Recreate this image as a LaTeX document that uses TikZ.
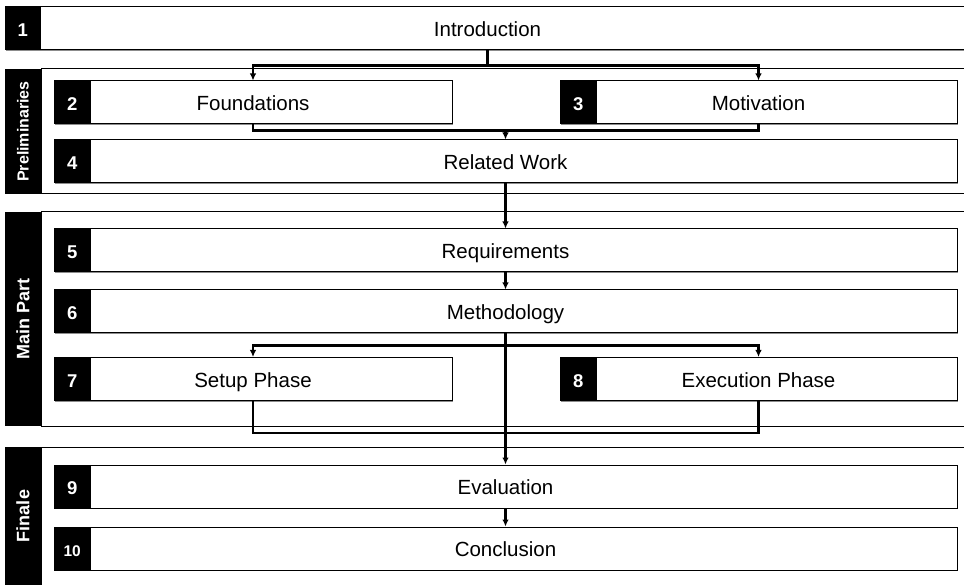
\documentclass[tikz,border=0pt]{standalone}
\usepackage{fontspec}
\setmainfont{Liberation Sans}
\usetikzlibrary{arrows.meta,calc,shadows}
\begin{document}
\begin{tikzpicture}[x=1pt,y=-1pt,
  chapter/.style={draw=black, line width=1pt, fill=white, minimum height=43pt,
    inner sep=0pt, text height=16pt, text depth=0pt, font=\fontsize{20.5}{24}\selectfont,
    drop shadow={shadow xshift=1.2pt, shadow yshift=-1.2pt, fill=black!45, opacity=1}},
  num/.style={fill=black, text=white, minimum width=37pt, minimum height=43pt,
    inner sep=0pt, anchor=west, text height=16pt, text depth=0pt,
    font=\fontsize{18.5}{22}\selectfont\bfseries},
  panel/.style={draw=black, line width=1pt, fill=white},
  sidebar/.style={fill=black},
  sidelabel/.style={text=white, rotate=90, inner sep=0pt, font=\fontsize{18}{21}\selectfont\bfseries},
  conn/.style={line width=2.2pt, draw=black},
  arr/.style={conn, -{Latex[length=7pt,width=6.5pt]}}
]
\useasboundingbox (0,0) rectangle (964,585);
\clip (0,0) rectangle (964,585);
\fill[white] (0,0) rectangle (964,585);

% group panels with their side bars
\draw[panel] (41,69) rectangle (990,194);
\fill[sidebar] (5,69) rectangle (41,194);
\node[sidelabel, font=\fontsize{16}{19}\selectfont\bfseries] (gPre) at (23,131.5) {Preliminaries};

\draw[panel] (41,212) rectangle (990,426);
\fill[sidebar] (5,212) rectangle (41,426);
\node[sidelabel] (gMain) at (23,319) {Main Part};

\draw[panel] (41,447) rectangle (990,600);
\fill[sidebar] (5,447) rectangle (41,600);
\node[sidelabel] (gFin) at (23,516) {Finale};

% chapters
\node[chapter, minimum width=965pt] (b1) at (487.5,28.5) {Introduction};
\node[num, minimum width=36pt] (n1) at (b1.west) {1};

\node[chapter, minimum width=398pt] (b2) at (253,102.5) {Foundations};
\node[num] (n2) at (b2.west) {2};
\node[chapter, minimum width=397pt] (b3) at (758.5,102.5) {Motivation};
\node[num] (n3) at (b3.west) {3};
\node[chapter, minimum width=903pt] (b4) at (505.5,161.5) {Related Work};
\node[num] (n4) at (b4.west) {4};

\node[chapter, minimum width=903pt] (b5) at (505.5,250.5) {Requirements};
\node[num] (n5) at (b5.west) {5};
\node[chapter, minimum width=903pt] (b6) at (505.5,311.5) {Methodology};
\node[num] (n6) at (b6.west) {6};
\node[chapter, minimum width=398pt] (b7) at (253,379) {Setup Phase};
\node[num] (n7) at (b7.west) {7};
\node[chapter, minimum width=397pt] (b8) at (758.5,379) {Execution Phase};
\node[num] (n8) at (b8.west) {8};

\node[chapter, minimum width=903pt] (b9) at (505.5,486.5) {Evaluation};
\node[num] (n9) at (b9.west) {9};
\node[chapter, minimum width=903pt] (b10) at (505.5,548.5) {Conclusion};
\node[num, font=\fontsize{15.5}{18}\selectfont\bfseries] (n10) at (b10.west) {10};

% flow between chapters
\draw[conn] (b1.south) -- ++(0,15) coordinate (j1);
\draw[arr] (j1) -| (b2.north);
\draw[arr] (j1) -| (b3.north);

\draw[conn] (b2.south) -- ++(0,6) coordinate (m1) -| (b3.south);
\draw[arr] (m1 -| b4.north) -- (b4.north);

\draw[arr] (b4.south) -- (b5.north);
\draw[arr] (b5.south) -- (b6.north);

\draw[arr] (b6.south) -- (b9.north);
\coordinate (j2) at ($(b6.south)+(0,12)$);
\draw[arr] (j2) -| (b7.north);
\draw[arr] (j2) -| (b8.north);
\draw[conn] (b7.south) -- ++(0,32) -| (b8.south);

\draw[arr] (b9.south) -- (b10.north);
\end{tikzpicture}
\end{document}
